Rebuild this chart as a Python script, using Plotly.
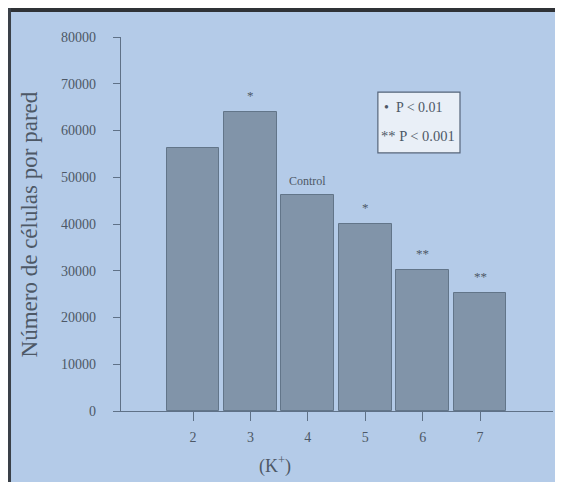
import plotly.graph_objects as go

# Data
k_levels = [2, 3, 4, 5, 6, 7]
cells_per_well = [56300, 64000, 46200, 40100, 30200, 25300]
bar_marks = ["", "*", "Control", "*", "**", "**"]
y_ticks = [0, 10000, 20000, 30000, 40000, 50000, 60000, 70000, 80000]
legend_lines = ["•  P < 0.01", "** P < 0.001"]

BG = "#b4cbe8"
BAR = "#8194a9"
INK = "#4d5866"
AXIS = "#5f7187"
SERIF = "Liberation Serif, Times New Roman, serif"

fig = go.Figure()
fig.add_trace(go.Bar(
    x=k_levels, y=cells_per_well, width=0.92,
    marker=dict(color=BAR, line=dict(color="#627589", width=1)),
    hoverinfo="skip",
))

# significance marks above bars
for x, y, t in zip(k_levels, cells_per_well, bar_marks):
    if t:
        fig.add_annotation(x=x, y=y, text=t, showarrow=False, yanchor="middle",
                           yshift=(14 if t == "Control" else 16),
                           font=dict(family=SERIF, size=(12 if t == "Control" else 13), color=INK))

# legend box
fig.add_shape(type="rect", xref="x", yref="y", x0=5.22, x1=6.65, y0=55200, y1=68200,
              fillcolor="#e9eff7", line=dict(color="#56657a", width=1.2), layer="below")
fig.add_annotation(x=5.30, y=65000, xref="x", yref="y", text=legend_lines[0], showarrow=False,
                   xanchor="left", font=dict(family=SERIF, size=14, color=INK))
fig.add_annotation(x=5.24, y=58800, xref="x", yref="y", text=legend_lines[1], showarrow=False,
                   xanchor="left", font=dict(family=SERIF, size=14.5, color=INK))

# axis titles
fig.add_annotation(x=-0.212, y=0.50, xref="paper", yref="paper", text="Número de células por pared",
                   textangle=-90, showarrow=False, xanchor="center", yanchor="middle",
                   font=dict(family=SERIF, size=23, color=INK))
fig.add_annotation(x=0.356, y=-0.144, xref="paper", yref="paper", text="(K<sup>+</sup>)",
                   showarrow=False, xanchor="center", yanchor="middle",
                   font=dict(family=SERIF, size=18, color=INK))

fig.update_layout(
    width=547, height=474,
    margin=dict(l=113, r=2, t=29, b=71),
    paper_bgcolor=BG, plot_bgcolor=BG,
    showlegend=False,
    font=dict(family=SERIF, color=INK),
    bargap=0,
)
# photo frame edges
fig.add_shape(type="rect", xref="paper", yref="paper", x0=-0.27, x1=1.03, y0=1.0668, y1=1.0775,
              fillcolor="#2f3236", line=dict(width=0), layer="above")
fig.add_shape(type="rect", xref="paper", yref="paper", x0=-0.27, x1=-0.2546, y0=-0.22, y1=1.08,
              fillcolor="#3a4048", line=dict(width=0), layer="above")

fig.update_xaxes(
    range=[0.746, 8.27], tickmode="array", tickvals=k_levels, ticktext=[str(k) for k in k_levels],
    showline=True, linecolor=AXIS, linewidth=1.2, ticks="outside", ticklen=9,
    tickcolor=AXIS, showgrid=False, zeroline=False, ticklabelstandoff=4,
    tickfont=dict(family=SERIF, size=14, color=INK),
)
fig.update_yaxes(
    range=[0, 80000], tickmode="array", tickvals=y_ticks, ticktext=[str(v) for v in y_ticks],
    showline=True, linecolor=AXIS, linewidth=1.2, ticks="outside", ticklen=7,
    tickcolor=AXIS, showgrid=False, zeroline=False, ticklabelstandoff=14,
    tickfont=dict(family=SERIF, size=14, color=INK),
)

fig.write_html("out.html")
